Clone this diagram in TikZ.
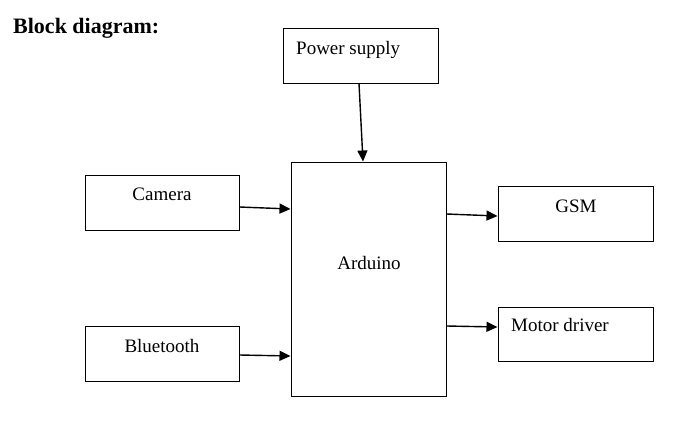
\documentclass[tikz,border=0pt]{standalone}
\usepackage{fontspec}
\setmainfont{Liberation Serif}
\usetikzlibrary{arrows.meta, positioning}

\begin{document}
\begin{tikzpicture}[
		x=1pt, y=-1pt,
		% Styles
		block/.style={draw=black, line width=1pt, minimum width=155pt, minimum height=55pt, inner sep=0pt},
		blocktext/.style={inner sep=0pt, font=\fontsize{19}{22}\selectfont},
		arrow/.style={-{Triangle[length=11pt, width=10pt]}, line width=1.4pt, draw=black}
		]
		
		\useasboundingbox (0,0) rectangle (673,437);
		
		% =========================================================
		% 1. TITLE
		% =========================================================
		\node[anchor=base west, inner sep=0pt, font=\fontsize{22}{26}\bfseries] (title) at (13,33) {Block diagram:};
		
		% =========================================================
		% 2. BLOCKS
		% =========================================================
		\node[block] (power) at (360.5,55.5) {};
		\node[blocktext, anchor=base west] (powertext) at (296,54) {Power supply};
		
		\node[block, minimum height=234pt] (arduino) at (368.5,279) {};
		\node[blocktext, anchor=base] (arduinotext) at (369,269) {Arduino};
		
		\node[block, minimum width=154pt] (camera) at (162,202.5) {};
		\node[blocktext, anchor=base] (cameratext) at (162,200) {Camera};
		
		\node[block, minimum width=154pt] (bluetooth) at (162,353.5) {};
		\node[blocktext, anchor=base] (bluetoothtext) at (162,352) {Bluetooth};
		
		\node[block] (gsm) at (575.5,213.5) {};
		\node[blocktext, anchor=base] (gsmtext) at (576,212) {GSM};
		
		\node[block, minimum height=54pt] (motor) at (575.5,334) {};
		\node[blocktext, anchor=base west] (motortext) at (511,331) {Motor driver};
		
		% =========================================================
		% 3. CONNECTIONS
		% =========================================================
		\draw[arrow] ([xshift=-1.5pt]power.south) -- ([xshift=-5.5pt]arduino.north);
		\draw[arrow] ([yshift=-4.5pt]camera.east) -- ([yshift=70pt]arduino.west);
		\draw[arrow] ([yshift=-1.5pt]bluetooth.east) -- ([yshift=-77pt]arduino.west);
		\draw[arrow] ([yshift=65pt]arduino.east) -- ([yshift=-2.5pt]gsm.west);
		\draw[arrow] ([yshift=-47pt]arduino.east) -- ([yshift=7pt]motor.west);
		
	\end{tikzpicture}
\end{document}
